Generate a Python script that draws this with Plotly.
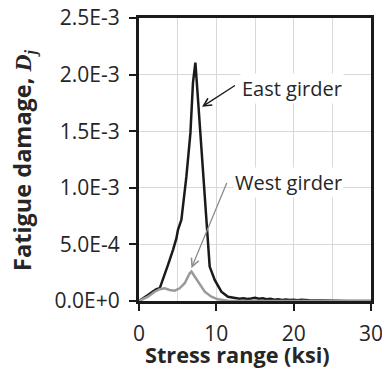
import plotly.graph_objects as go

# East girder (black)
east_x = [0, 0.5, 1.16, 1.7, 2.25, 2.68, 3.10, 3.75, 4.40, 4.84, 5.04, 5.48, 6.13, 6.65, 6.98, 7.29,
          7.63, 8.07, 8.5, 8.79, 9.14, 9.79, 10.65, 11.5, 12.4, 13.0, 13.5, 14.0, 14.5, 15.0, 15.5,
          16.0, 16.5, 17.0, 17.5, 18.0, 18.5, 19.0, 19.5, 20.0, 20.5, 21.0, 22.0, 23.0, 23.5, 24.0,
          25.0, 27.0, 30.0]
east_y = [0, 0.02, 0.053, 0.08, 0.104, 0.112, 0.186, 0.319, 0.452, 0.555, 0.629, 0.717, 1.10, 1.485,
          1.93, 2.105, 1.78, 1.337, 0.894, 0.60, 0.304, 0.186, 0.082, 0.038, 0.024, 0.02, 0.025,
          0.018, 0.022, 0.028, 0.02, 0.024, 0.015, 0.02, 0.012, 0.016, 0.01, 0.014, 0.008, 0.012,
          0.006, 0.01, 0.006, 0.004, 0.008, 0.003, 0.002, 0.001, 0.0]
east_y = [v * 1e-3 for v in east_y]

# West girder (grey)
west_x = [0, 1.16, 2.03, 2.68, 3.32, 3.97, 4.62, 5.26, 5.91, 6.56, 6.78, 7.2, 7.85, 8.5, 9.36,
          10.2, 11.5, 13.0, 30.0]
west_y = [0, 0.038, 0.082, 0.104, 0.112, 0.097, 0.091, 0.112, 0.157, 0.245, 0.26, 0.215, 0.142,
          0.082, 0.038, 0.015, 0.003, 0.0, 0.0]
west_y = [v * 1e-3 for v in west_y]

x_ticks = [0, 10, 20, 30]
y_ticks = [0, 0.5e-3, 1.0e-3, 1.5e-3, 2.0e-3, 2.5e-3]
y_tick_labels = ["0.0E+0", "5.0E-4", "1.0E-3", "1.5E-3", "2.0E-3", "2.5E-3"]

FONT = "Open Sans"
TXT = "#262626"
GRID = "#d9d9d9"

fig = go.Figure()
fig.add_trace(go.Scatter(x=east_x, y=east_y, mode="lines",
                         line=dict(color="#1a1a1a", width=2.5), showlegend=False))
fig.add_trace(go.Scatter(x=west_x, y=west_y, mode="lines",
                         line=dict(color="#9a9a9a", width=2.5), showlegend=False))

# arrows
fig.add_annotation(x=8.15, y=1.715e-3, ax=12.6, ay=1.913e-3, xref="x", yref="y",
                   axref="x", ayref="y", text="", showarrow=True, arrowhead=5,
                   arrowsize=1.2, arrowwidth=1.3, arrowcolor="#1a1a1a", standoff=0)
fig.add_annotation(x=6.78, y=0.29e-3, ax=11.43, ay=1.056e-3, xref="x", yref="y",
                   axref="x", ayref="y", text="", showarrow=True, arrowhead=5,
                   arrowsize=1.2, arrowwidth=1.3, arrowcolor="#8c8c8c", standoff=0)
# labels
fig.add_annotation(x=19.8, y=1.877e-3, xref="x", yref="y", text="East girder", showarrow=False,
                   font=dict(family=FONT, size=20, color=TXT), bgcolor="white", borderpad=1)
fig.add_annotation(x=19.39, y=1.047e-3, xref="x", yref="y", text="West girder", showarrow=False,
                   font=dict(family=FONT, size=20, color=TXT), bgcolor="white", borderpad=1)

# axis titles
fig.add_annotation(x=0.4254, y=-0.19, xref="paper", yref="paper", text="<b>Stress range (ksi)</b>",
                   showarrow=False, xanchor="center", yanchor="middle",
                   font=dict(family=FONT, size=21.7, color=TXT))
fig.add_annotation(x=-0.5, y=0.495, xref="paper", yref="paper", textangle=-90,
                   text="<b>Fatigue damage, </b><span style='font-family:Liberation Serif'><b><i>D</i></b><sub><b><i>j</i></b></sub></span>",
                   showarrow=False, xanchor="center", yanchor="middle",
                   font=dict(family=FONT, size=23.5, color=TXT))

fig.update_layout(
    width=382, height=370,
    margin=dict(l=139, r=11, t=18, b=69),
    paper_bgcolor="white", plot_bgcolor="white",
    font=dict(family=FONT, size=20, color=TXT),
)
fig.update_xaxes(
    automargin=False,
    range=[0, 30], tickvals=x_ticks, ticks="outside", ticklen=7, tickwidth=1.5, tickcolor="#1a1a1a",
    showline=True, linecolor="#1a1a1a", linewidth=3, mirror=True,
    showgrid=True, gridcolor=GRID, gridwidth=1,
    minor=dict(dtick=5, showgrid=True, gridcolor=GRID, gridwidth=1),
    zeroline=False, layer="below traces", ticklabeloverflow="allow",
    tickfont=dict(family=FONT, size=21, color=TXT), ticklabelstandoff=5,
)
fig.update_yaxes(
    automargin=False,
    range=[0, 2.5e-3], tickvals=y_ticks, ticktext=y_tick_labels,
    ticks="outside", ticklen=7, tickwidth=1.5, tickcolor="#1a1a1a",
    showline=True, linecolor="#1a1a1a", linewidth=3, mirror=True,
    showgrid=True, gridcolor=GRID, gridwidth=1, zeroline=False, layer="below traces",
    tickfont=dict(family=FONT, size=21, color=TXT), ticklabelstandoff=5,
)

fig.write_html("out.html")
